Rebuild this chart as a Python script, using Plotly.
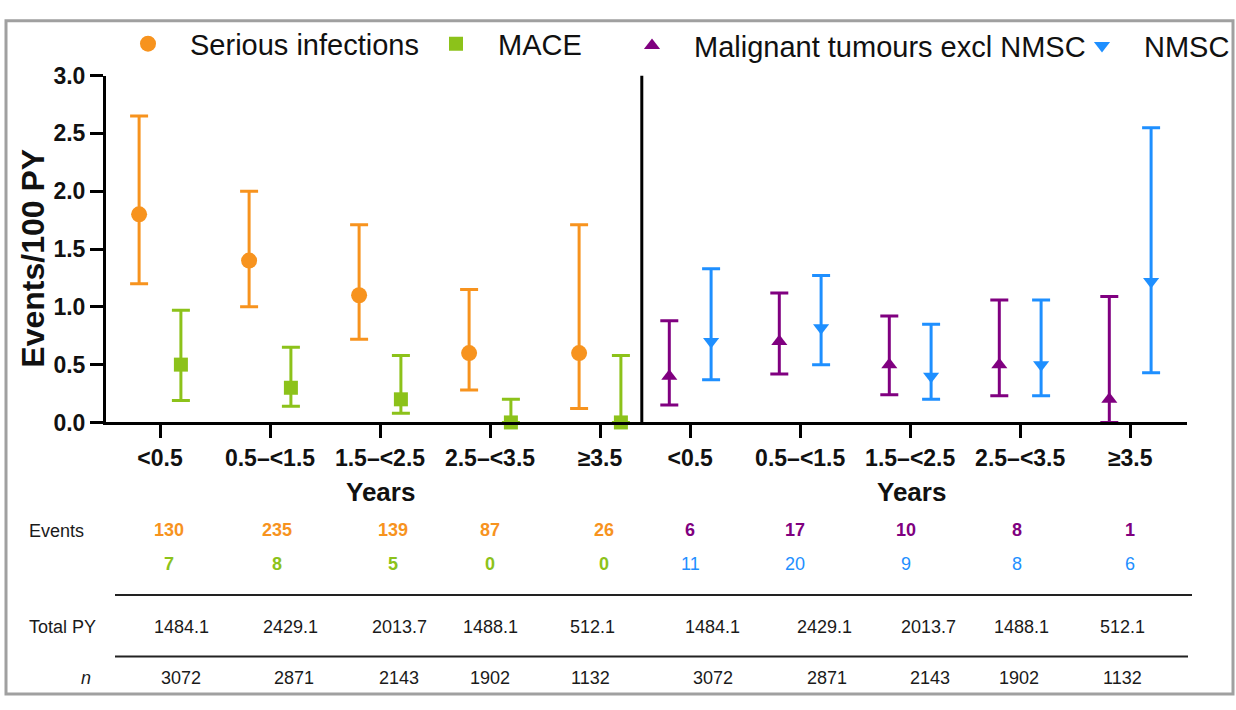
import plotly.graph_objects as go

W, H = 1236, 710

categories = ["<0.5", "0.5–<1.5", "1.5–<2.5", "2.5–<3.5", "≥3.5"]

si_val = [1.8, 1.4, 1.1, 0.6, 0.6]
si_lo = [1.2, 1.0, 0.72, 0.28, 0.12]
si_hi = [2.65, 2.0, 1.71, 1.15, 1.71]

mace_val = [0.5, 0.3, 0.2, 0.0, 0.0]
mace_lo = [0.19, 0.14, 0.08, 0.0, 0.0]
mace_hi = [0.97, 0.65, 0.58, 0.2, 0.58]

mal_val = [0.4, 0.7, 0.5, 0.5, 0.2]
mal_lo = [0.15, 0.42, 0.24, 0.23, 0.0]
mal_hi = [0.88, 1.12, 0.92, 1.06, 1.09]

nmsc_val = [0.7, 0.82, 0.4, 0.5, 1.22]
nmsc_lo = [0.37, 0.5, 0.2, 0.23, 0.43]
nmsc_hi = [1.33, 1.27, 0.85, 1.06, 2.55]

events_si = [130, 235, 139, 87, 26]
events_mace = [7, 8, 5, 0, 0]
events_mal = [6, 17, 10, 8, 1]
events_nmsc = [11, 20, 9, 8, 6]
total_py = [1484.1, 2429.1, 2013.7, 1488.1, 512.1]
n_pat = [3072, 2871, 2143, 1902, 1132]

ORANGE = "#F7931E"
GREEN = "#8CC21A"
PURPLE = "#800080"
BLUE = "#1E8FFF"
FONT = "Liberation Sans, Arial, sans-serif"

# --- layout geometry (pixels) ---
X0_PX, X_STEP = 160, 110          # first left tick, spacing
AX_L, AX_R = 106, 1187            # plot area left/right
AX_T, AX_B = 65, 425              # plot area top/bottom
RIGHT_START = 4.82                # first right-panel category position
DIVIDER = 4.38
OFF = 0.19

def px2pos(p):
    return (p - X0_PX) / X_STEP

left_pos = [i for i in range(len(categories))]
right_pos = [RIGHT_START + i for i in range(len(categories))]

def ptrace(xs, val, lo, hi, name, color, symbol, size, legend):
    return go.Scatter(
        x=xs, y=val, mode="markers", name=name, legend=legend, showlegend=True,
        marker=dict(color=color, symbol=symbol, size=size, line=dict(width=0)),
        error_y=dict(type="data", symmetric=False,
                     array=[h - v for h, v in zip(hi, val)],
                     arrayminus=[v - l for v, l in zip(val, lo)],
                     color=color, thickness=3, width=9),
        cliponaxis=False,
    )

fig = go.Figure()
fig.add_trace(ptrace([p - OFF for p in left_pos], si_val, si_lo, si_hi,
                     "Serious infections", ORANGE, "circle", 16, "legend"))
fig.add_trace(ptrace([p + OFF for p in left_pos], mace_val, mace_lo, mace_hi,
                     "MACE", GREEN, "square", 14, "legend2"))
fig.add_trace(ptrace([p - OFF for p in right_pos], mal_val, mal_lo, mal_hi,
                     "Malignant tumours excl NMSC", PURPLE, "triangle-up", 14, "legend3"))
fig.add_trace(ptrace([p + OFF for p in right_pos], nmsc_val, nmsc_lo, nmsc_hi,
                     "NMSC", BLUE, "triangle-down", 14, "legend4"))

fig.update_xaxes(
    range=[px2pos(AX_L), px2pos(AX_R)],
    domain=[AX_L / W, AX_R / W],
    tickvals=left_pos + right_pos, ticktext=categories + categories,
    ticks="outside", ticklen=13, tickwidth=3, tickcolor="black",
    showline=True, linewidth=3, linecolor="black", showgrid=False, zeroline=False,
    tickfont=dict(family=FONT, size=23, color="#111", weight="bold"),
)
fig.update_yaxes(
    range=[0, 3], domain=[1 - AX_B / H, 1 - AX_T / H],
    tickvals=[0, 0.5, 1.0, 1.5, 2.0, 2.5, 3.0], tickformat=".1f",
    ticks="outside", ticklen=13, tickwidth=3, tickcolor="black",
    showline=True, linewidth=3, linecolor="black", showgrid=False, zeroline=False,
    tickfont=dict(family=FONT, size=23, color="#111", weight="bold"),
)

# divider
fig.add_shape(type="line", xref="x", yref="y", x0=DIVIDER, x1=DIVIDER, y0=0, y1=3,
              line=dict(color="black", width=3))

def ann(text, xp, yp, size=18, color="#1a1a1a", bold=False, xanchor="center", italic=False, angle=0):
    fig.add_annotation(
        text=text, x=xp / W, y=1 - yp / H, xref="paper", yref="paper",
        showarrow=False, xanchor=xanchor, yanchor="middle", textangle=angle,
        font=dict(family=FONT, size=size, color=color,
                  weight="bold" if bold else "normal",
                  style="italic" if italic else "normal"),
    )

ann("Events/100 PY", 33, 255, size=32, color="#111", bold=True, angle=-90)
ann("Years", 381, 497, size=26, color="#111", bold=True)
ann("Years", 911, 497, size=26, color="#111", bold=True)

# table
ev_left_x = [169, 277, 393, 490, 604]
ev_right_x = [690, 795, 906, 1017, 1130]
py_left_x = [181, 290, 399, 490, 592]
py_right_x = [712, 824, 928, 1021, 1122]
n_left_x = [181, 294, 399, 490, 590]
n_right_x = [713, 827, 930, 1019, 1122]

ann("Events", 27, 538, size=18, xanchor="left")
ann("Total PY", 27, 637, size=18, xanchor="left")
ann("n", 93, 690, size=18, xanchor="right", italic=True)

for i in range(len(categories)):
    ann(str(events_si[i]), ev_left_x[i], 537, color=ORANGE, bold=True)
    ann(str(events_mace[i]), ev_left_x[i], 572, color=GREEN, bold=True)
    ann(str(events_mal[i]), ev_right_x[i], 537, color=PURPLE, bold=True)
    ann(str(events_nmsc[i]), ev_right_x[i], 572, color=BLUE)
    ann(f"{total_py[i]:.1f}", py_left_x[i], 637)
    ann(f"{total_py[i]:.1f}", py_right_x[i], 637)
    ann(str(n_pat[i]), n_left_x[i], 690)
    ann(str(n_pat[i]), n_right_x[i], 690)

for yp, x1 in [(604, 1192), (668, 1188)]:
    fig.add_shape(type="line", xref="paper", yref="paper",
                  x0=115 / W, x1=x1 / W, y0=1 - yp / H, y1=1 - yp / H,
                  line=dict(color="#222", width=2))

# outer frame
fig.add_shape(type="rect", xref="paper", yref="paper",
              x0=6 / W, x1=(W - 3) / W, y0=3 / H, y1=1 - 8 / H,
              line=dict(color="#A0A0A0", width=3), layer="below")

leg_common = dict(orientation="h", xanchor="left", yanchor="middle",
                  bgcolor="rgba(0,0,0,0)", borderwidth=0, itemwidth=74,
                  font=dict(family=FONT, size=29, color="#111"))
fig.update_layout(
    width=W, height=H, margin=dict(l=0, r=0, t=0, b=0),
    paper_bgcolor="white", plot_bgcolor="white", showlegend=True,
    legend=dict(x=106 / W, y=1 - 32 / H, **leg_common),
    legend2=dict(x=414 / W, y=1 - 32 / H, **leg_common),
    legend3=dict(x=610 / W, y=1 - 34 / H, **leg_common),
    legend4=dict(x=1060 / W, y=1 - 34 / H, **leg_common),
)

fig.write_html("out.html", config={"displayModeBar": False},
               post_script="document.body.style.margin='0';document.body.style.overflow='hidden';")
